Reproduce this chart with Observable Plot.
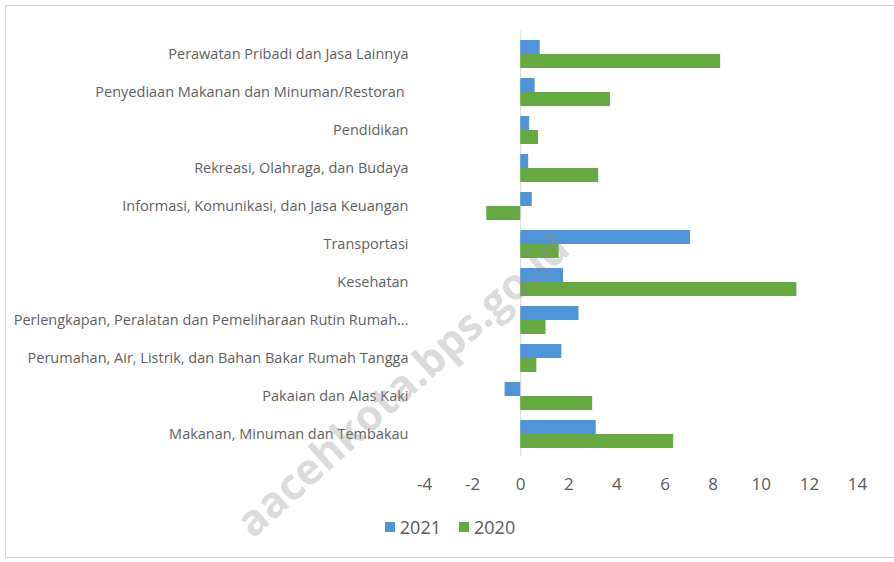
<!DOCTYPE html>
<html>
<head>
<meta charset="utf-8">
<script src="https://cdn.jsdelivr.net/npm/d3@7"></script>
<script src="https://cdn.jsdelivr.net/npm/@observablehq/plot@0.6"></script>
<style>
  html, body { margin: 0; padding: 0; background: #fff; overflow: hidden; }
  #frame { position: absolute; left: 5px; top: 5px; width: 900px; height: 553px; border: 1px solid #d4d4d4; border-right: none; box-sizing: border-box; }
  #chart { position: absolute; left: 0; top: 0; }
  #chart svg g[aria-label^="x-axis"] text { font-size: 17px; fill: #595959; }
  #chart svg g[aria-label^="y-axis"] text { font-size: 14.5px; fill: #5f5f5f; }
  #legend { position: absolute; left: 0; width: 888px; top: 509px; display: flex; justify-content: center; align-items: center; font-family: "Open Sans", sans-serif; font-size: 18px; color: #595959; }
  .item { display: flex; align-items: center; margin: 0 9px; }
  .sw { width: 10px; height: 10px; margin-right: 5px; }
  #wm { position: absolute; left: 0; top: 0; pointer-events: none; }
</style>
</head>
<body>
<div id="frame">
  <div id="chart"></div>
  <div id="legend"></div>
</div>
<svg id="wm" width="894" height="562"></svg>
<script>
const categories = [
  "Perawatan Pribadi dan Jasa Lainnya",
  "Penyediaan Makanan dan Minuman/Restoran\u00a0",
  "Pendidikan",
  "Rekreasi, Olahraga, dan Budaya",
  "Informasi, Komunikasi, dan Jasa Keuangan",
  "Transportasi",
  "Kesehatan",
  "Perlengkapan, Peralatan dan Pemeliharaan Rutin Rumah...",
  "Perumahan, Air, Listrik, dan Bahan Bakar Rumah Tangga",
  "Pakaian dan Alas Kaki",
  "Makanan, Minuman dan Tembakau"
];
const values2021 = [0.81, 0.60, 0.37, 0.33, 0.48, 7.06, 1.78, 2.42, 1.71, -0.65, 3.14];
const values2020 = [8.31, 3.73, 0.74, 3.24, -1.41, 1.60, 11.48, 1.05, 0.67, 2.99, 6.36];
const seriesNames = ["2021", "2020"];
const seriesColors = ["#4F94D7", "#66A942"];
const xTicks = [-4, -2, 0, 2, 4, 6, 8, 10, 12, 14];
const watermark = "aacehkota.bps.go.id";

const data2021 = categories.map((c, i) => ({category: c, value: values2021[i], series: seriesNames[0]}));
const data2020 = categories.map((c, i) => ({category: c, value: values2020[i], series: seriesNames[1]}));

const W = 888, H = 500, mTop = 25, mBottom = 50, pInner = 0.275;
const step = (H - mTop - mBottom) / categories.length;
const half = step * (1 - pInner) / 2;

const chart = Plot.plot({
  width: W,
  height: H,
  marginLeft: 418,
  marginRight: 37,
  marginTop: mTop,
  marginBottom: mBottom,
  style: {fontFamily: "'Open Sans', sans-serif", background: "transparent", color: "#595959", overflow: "visible"},
  x: {domain: [-4, 14], ticks: xTicks, tickFormat: d => String(d), label: null, tickSize: 0, tickPadding: 21},
  y: {domain: categories, label: null, tickSize: 0, tickPadding: 16, paddingInner: pInner, paddingOuter: pInner / 2},
  color: {domain: seriesNames, range: seriesColors},
  marks: [
    Plot.ruleX([0], {stroke: "#d9d9d9", strokeWidth: 1}),
    Plot.barX(data2021, {x: "value", y: "category", fill: "series", insetBottom: half}),
    Plot.barX(data2020, {x: "value", y: "category", fill: "series", insetTop: half})
  ]
});
document.getElementById("chart").appendChild(chart);

const legend = document.getElementById("legend");
seriesNames.forEach((name, i) => {
  const item = document.createElement("div");
  item.className = "item";
  const sw = document.createElement("div");
  sw.className = "sw";
  sw.style.background = seriesColors[i];
  const lab = document.createElement("span");
  lab.textContent = name;
  item.appendChild(sw);
  item.appendChild(lab);
  legend.appendChild(item);
});

const wm = d3.select("#wm");
wm.append("text")
  .attr("transform", "translate(572,252) rotate(-42)")
  .attr("text-anchor", "end")
  .attr("font-family", "'Open Sans', sans-serif")
  .attr("font-weight", "bold")
  .attr("font-size", 43)
  .attr("fill", "#8c8c8c")
  .attr("fill-opacity", 0.32)
  .text(watermark);
</script>
</body>
</html>
